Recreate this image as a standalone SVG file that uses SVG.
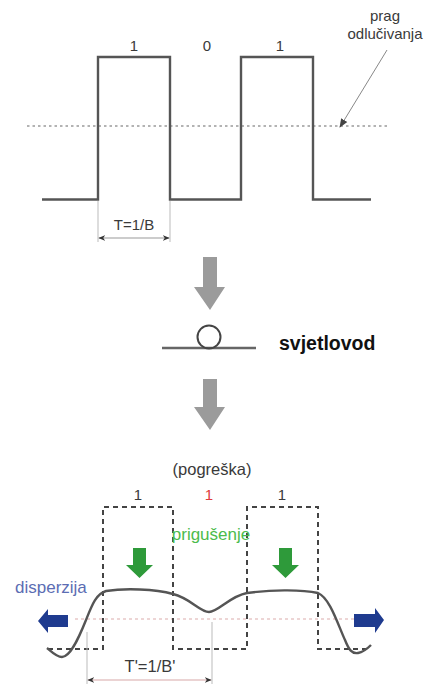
<svg xmlns="http://www.w3.org/2000/svg" width="430" height="684" viewBox="0 0 430 684">
<style>
text{font-family:"Liberation Sans",Arial,sans-serif;fill:#3a3a3a}
.lbl{font-size:15px}
.mid{text-anchor:middle}
.wave{fill:none;stroke:#555;stroke-width:2.4}
.dash{fill:none;stroke:#444;stroke-width:2;stroke-dasharray:5 4}
.thr{fill:none;stroke:#9a9a9a;stroke-width:1.6;stroke-dasharray:2.5 3}
.dim{fill:none;stroke:#bbb;stroke-width:1}
.garrow{fill:#9b9b9b}
</style>
<defs>
<marker id="ah" viewBox="0 0 10 10" refX="9" refY="5" markerWidth="7" markerHeight="7" orient="auto-start-reverse" markerUnits="userSpaceOnUse">
<path d="M0,1 L10,5 L0,9 L3,5 Z" fill="#333"/>
</marker>
<marker id="ah2" viewBox="0 0 10 10" refX="9" refY="5" markerWidth="9" markerHeight="9" orient="auto" markerUnits="userSpaceOnUse">
<path d="M0,1 L10,5 L0,9 Z" fill="#444"/>
</marker>
</defs>

<g id="top-signal">
<line class="thr" x1="27" y1="126" x2="387" y2="126"/>
<path class="wave" d="M42,199.5 H98 V57 H170 V199.5 H241 V57 H313 V199.5 H371"/>
<text class="lbl mid" x="134" y="51">1</text>
<text class="lbl mid" x="207" y="51">0</text>
<text class="lbl mid" x="280" y="51">1</text>
</g>

<g id="threshold-label">
<text class="mid" x="385" y="21" font-size="15">prag</text>
<text class="mid" x="385" y="39" font-size="15">odlučivanja</text>
</g>

<g id="period-top">
<line class="dim" x1="98" y1="201" x2="98" y2="242"/>
<line class="dim" x1="170" y1="201" x2="170" y2="242"/>
<text class="mid" x="134" y="230" font-size="15">T=1/B</text>
</g>

<g id="arrow-down-1">
<path class="garrow" d="M203,257 H217 V287 H225 L210,310 L194,287 H203 Z"/>
</g>

<g id="fiber">
<line x1="162" y1="348" x2="256" y2="348" stroke="#666" stroke-width="2.4"/>
<circle cx="209" cy="337" r="11.5" fill="none" stroke="#444" stroke-width="2"/>
<text x="279" y="350" font-size="19.5" font-weight="bold" style="fill:#111">svjetlovod</text>
</g>

<g id="arrow-down-2">
<path class="garrow" d="M203,379 H217 V407 H225 L210,430 L194,407 H203 Z"/>
</g>

<g id="bottom-signal">
<text class="mid" x="212" y="475" font-size="16.5">(pogreška)</text>
<text class="lbl mid" x="138" y="500">1</text>
<text class="lbl mid" x="209" y="500" style="fill:#e03a3a">1</text>
<text class="lbl mid" x="282" y="500">1</text>
<line x1="75" y1="619" x2="355" y2="619" stroke="#e8c8c8" stroke-width="1.4" stroke-dasharray="3 3"/>
<path class="dash" d="M48,649 H103 V507 H173 V649 H247 V507 H318 V649 H370"/>
<path class="wave" d="M47,648 C52,652 56,657 62,657 C70,657 78,640 86,620 C92,605 96,594 106,591 C125,588 155,589 173,594 C190,598 200,612 209,612 C218,612 230,596 247,593 C270,590 300,589 318,593 C330,598 338,625 345,640 C349,650 352,654 358,653 C364,652 368,648 371,645"/>
</g>

<g id="attenuation">
<text class="mid" x="211" y="540" font-size="17" style="fill:#4cbb4c">prigušenje</text>
<path d="M133,548 H146 V565 H153 L139.5,578 L126,565 H133 Z" fill="#2e9a3a"/>
<path d="M279,548 H292 V565 H299 L285.5,578 L272,565 H279 Z" fill="#2e9a3a"/>
</g>

<g id="dispersion">
<text x="15" y="593" font-size="17" style="fill:#5b6db3">disperzija</text>
<path d="M68,615 V627 H48 V633 L38,621 L48,609 V615 Z" fill="#1f3b8f"/>
<path d="M354,614 V627 H375 V633 L384,620 L375,608 V614 Z" fill="#1f3b8f"/>
</g>

<g id="period-bottom">
<line class="dim" x1="87" y1="632" x2="87" y2="684"/>
<line class="dim" x1="212" y1="622" x2="212" y2="684"/>
<text class="mid" x="150" y="672" font-size="16.5">T'=1/B'</text>
</g>

<g id="connectors">
<line x1="387" y1="50" x2="340" y2="127" stroke="#888" stroke-width="1" marker-end="url(#ah2)"/>
<line x1="99" y1="238" x2="169" y2="238" stroke="#999" stroke-width="1" marker-start="url(#ah)" marker-end="url(#ah)"/>
<line x1="88" y1="680" x2="211" y2="680" stroke="#d8a8a8" stroke-width="1.2" marker-start="url(#ah)" marker-end="url(#ah)"/>
</g>
</svg>
